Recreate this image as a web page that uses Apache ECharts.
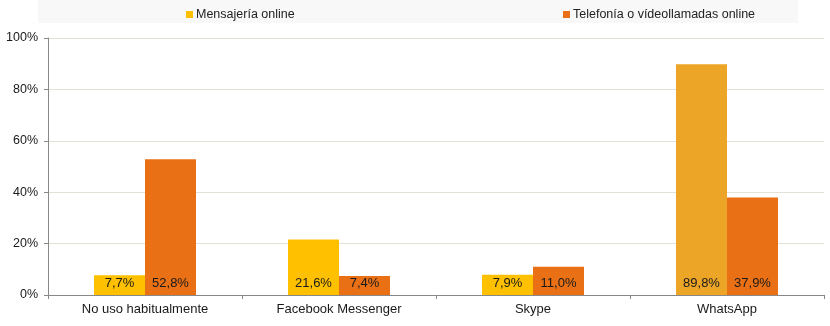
<!DOCTYPE html>
<html>
<head>
<meta charset="utf-8">
<script src="https://cdn.jsdelivr.net/npm/echarts@6/dist/echarts.min.js"></script>
<style>html,body{margin:0;padding:0;background:#fff}#c{width:830px;height:326px}</style>
</head>
<body>
<div id="c"></div>
<script>
var categories = ['No uso habitualmente', 'Facebook Messenger', 'Skype', 'WhatsApp'];
var mensajeria = [7.7, 21.6, 7.9, 89.8];
var telefonia = [52.8, 7.4, 11.0, 37.9];
var seriesNames = ['Mensajería online', 'Telefonía o vídeollamadas online'];
var yTicks = [0, 20, 40, 60, 80, 100];

var font = 'Liberation Sans, Arial, sans-serif';
var yellow = '#FFC000';
var yellowAlt = '#EDA528';
var orange = '#E97014';

function fmt(v){ return v.toFixed(1).replace('.', ',') + '%'; }

var chart = echarts.init(document.getElementById('c'));
chart.setOption({
  animation: false,
  backgroundColor: '#fff',
  graphic: [{
    type: 'rect', left: 38, top: 0, z: -10,
    shape: { width: 760, height: 23 },
    style: { fill: '#F8F8F8' }
  }],
  legend: [{
    data: [seriesNames[0]], left: 181, top: 3,
    itemWidth: 7, itemHeight: 7, icon: 'rect',
    textStyle: { fontFamily: font, fontSize: 12.5, color: '#222', padding: [0,0,0,-2] }
  }, {
    data: [seriesNames[1]], left: 558, top: 3,
    itemWidth: 7, itemHeight: 7, icon: 'rect',
    textStyle: { fontFamily: font, fontSize: 12.5, color: '#222', padding: [0,0,0,-2] }
  }],
  grid: { left: 48, right: 6, top: 38, bottom: 31, containLabel: false },
  xAxis: {
    type: 'category', data: categories,
    axisLine: { lineStyle: { color: '#888' } },
    axisTick: { show: true, length: 4, lineStyle: { color: '#888' } },
    axisLabel: { fontFamily: font, fontSize: 13, color: '#1a1a1a', margin: 8 }
  },
  yAxis: {
    type: 'value', min: 0, max: 100, interval: 20,
    axisLine: { show: true, lineStyle: { color: '#888' } },
    axisTick: { show: true, length: 4, lineStyle: { color: '#888' } },
    axisLabel: { fontFamily: font, fontSize: 12.5, color: '#1a1a1a', margin: 10,
      formatter: function(v){ return yTicks.indexOf(v) >= 0 ? v + '%' : ''; } },
    splitLine: { lineStyle: { color: '#E3E1D6' } }
  },
  series: [{
    name: seriesNames[0], type: 'bar', barWidth: 51, barGap: '0%',
    itemStyle: { color: yellow },
    data: mensajeria.map(function(v, i){
      return i === 3 ? { value: v, itemStyle: { color: yellowAlt } } : v;
    }),
    label: { show: true, position: 'insideBottom', distance: 5, fontFamily: font, fontSize: 13, color: '#1a1a1a',
      formatter: function(p){ return fmt(p.value); } }
  }, {
    name: seriesNames[1], type: 'bar', barWidth: 51, barGap: '0%',
    itemStyle: { color: orange },
    data: telefonia,
    label: { show: true, position: 'insideBottom', distance: 5, fontFamily: font, fontSize: 13, color: '#1a1a1a',
      formatter: function(p){ return fmt(p.value); } }
  }]
});
</script>
</body>
</html>
